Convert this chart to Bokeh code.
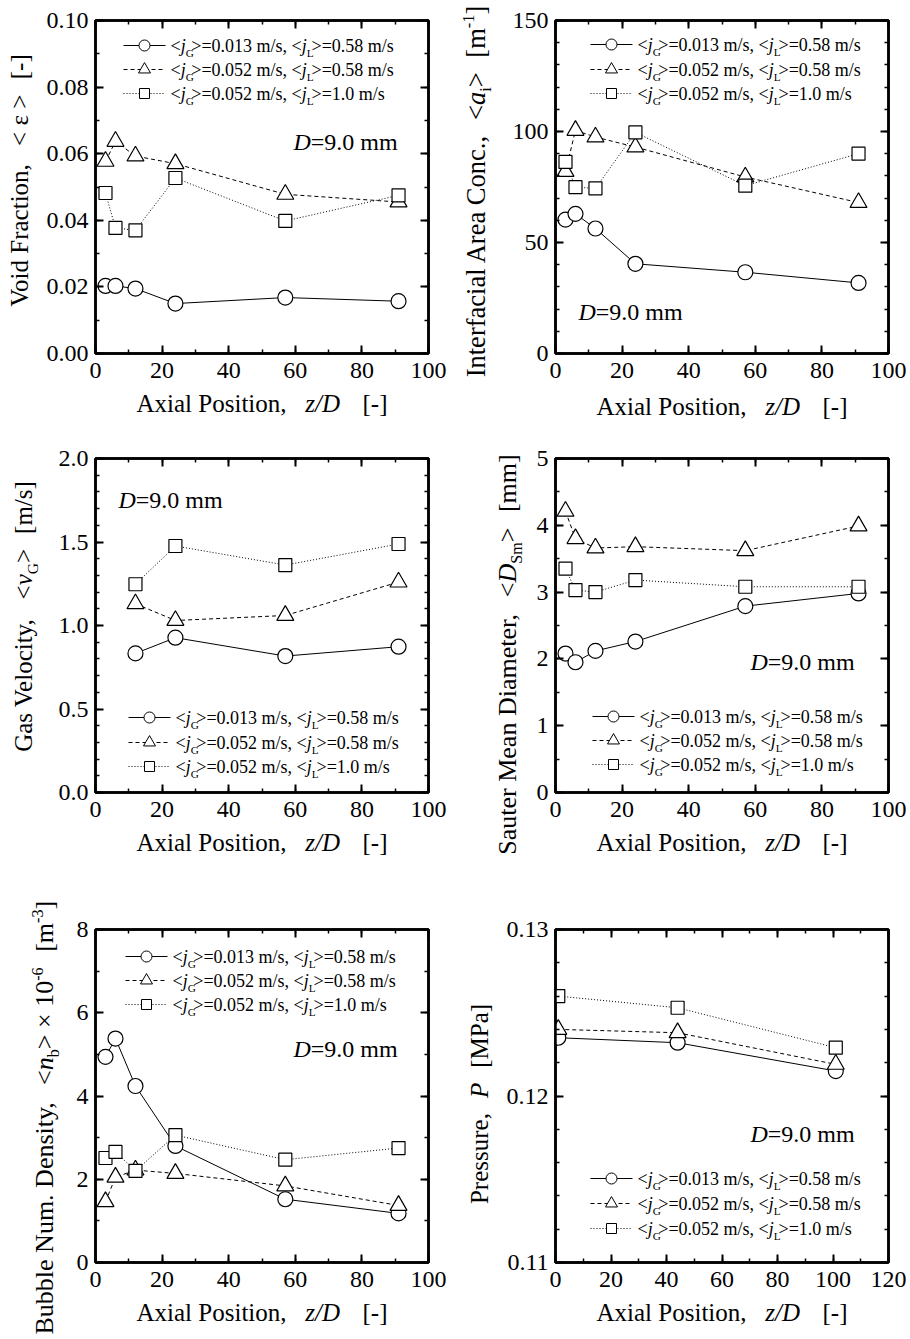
import math
from bokeh.plotting import figure
from bokeh.models import Range1d, LinearAxis, SingleIntervalTicker, PrintfTickFormatter, Label
from bokeh.layouts import row, column
from bokeh.embed import file_html
from bokeh.resources import INLINE

FONT = "Liberation Serif"

# ---------------- data ----------------
z_pos = [3, 6, 12, 24, 57, 91]          # axial positions z/D
z_vel = [12, 24, 57, 91]                # positions for gas velocity
z_pres = [1, 44, 101]                   # positions for pressure

# series: A = <jG>=0.013, <jL>=0.58 ; B = <jG>=0.052, <jL>=0.58 ; C = <jG>=0.052, <jL>=1.0
void_A = [0.0203, 0.0203, 0.0195, 0.0150, 0.0168, 0.0157]
void_B = [0.0577, 0.0637, 0.0593, 0.0570, 0.0478, 0.0455]
void_C = [0.0482, 0.0377, 0.0370, 0.0527, 0.0398, 0.0475]

iac_A = [60.3, 62.9, 56.3, 40.4, 36.6, 31.8]
iac_B = [82.0, 100.5, 97.5, 93.0, 79.5, 68.0]
iac_C = [86.3, 74.9, 74.4, 99.6, 75.6, 90.0]

vg_A = [0.833, 0.927, 0.817, 0.873]
vg_B = [1.13, 1.03, 1.06, 1.26]
vg_C = [1.247, 1.476, 1.362, 1.488]

dsm_A = [2.08, 1.95, 2.12, 2.26, 2.79, 2.98]
dsm_B = [4.21, 3.80, 3.66, 3.68, 3.62, 3.99]
dsm_C = [3.35, 3.03, 3.00, 3.18, 3.08, 3.08]

nb_A = [4.94, 5.38, 4.24, 2.80, 1.52, 1.18]
nb_B = [1.46, 2.05, 2.22, 2.14, 1.84, 1.37]
nb_C = [2.51, 2.66, 2.20, 3.06, 2.47, 2.75]

pres_A = [0.1235, 0.1232, 0.1215]
pres_B = [0.1240, 0.1238, 0.1219]
pres_C = [0.1260, 0.1253, 0.1229]

legend_jg = ["0.013", "0.052", "0.052"]
legend_jl = ["0.58", "0.58", "1.0"]

# ---------------- text helpers ----------------
W_R = {' ': 250, ',': 250, '.': 250, '-': 333, '/': 278, '[': 333, ']': 333, '<': 564, '>': 564,
       '=': 564, '×': 564, 'ε': 440,
       'A': 722, 'B': 667, 'C': 667, 'D': 722, 'F': 556, 'G': 722, 'I': 333, 'L': 611, 'M': 889,
       'N': 722, 'P': 556, 'S': 556, 'V': 722,
       'a': 444, 'b': 500, 'c': 444, 'd': 500, 'e': 444, 'f': 333, 'i': 278, 'l': 278, 'm': 778,
       'n': 500, 'o': 500, 'r': 333, 's': 389, 't': 278, 'u': 500, 'x': 500, 'y': 500, 'z': 444}
for _d in "0123456789":
    W_R[_d] = 500
W_I = {'D': 722, 'P': 611, 'a': 500, 'j': 278, 'n': 500, 'v': 444, 'z': 389, '/': 278}

BASE_FIX = 0.36   # rendered baseline sits this many em below the anchor; compensate


def seg_width(text, italic, size):
    tbl = W_I if italic else W_R
    return sum(tbl.get(ch, W_R.get(ch, 500)) for ch in text) * size / 1000.0


def expand(segs, S, sub_adv=1.0):
    out = []
    for t, k in segs:
        if t == "_gap":
            out.append((None, 0, 0, k * S, False))
            continue
        adv = 1.0
        if k == "r":
            size, shift, it = S, 0.0, False
        elif k == "i":
            size, shift, it = S, 0.0, True
        elif k == "sub":
            size, shift, it = 0.62 * S, -0.24 * S, False
            adv = sub_adv
        else:  # sup
            size, shift, it = 0.62 * S, 0.40 * S, False
        out.append((t, size, shift, seg_width(t, it, size) * adv, it))
    return out


def rich_total(segs, S, sub_adv=1.0):
    return sum(w for _, _, _, w, _ in expand(segs, S, sub_adv))


def rich(p, segs, S, x, y, vertical=False, start=0.0, sub_adv=1.0):
    pos = start
    for t, size, shift, w, it in expand(segs, S, sub_adv):
        if t is not None:
            up = shift + BASE_FIX * size
            if vertical:
                lx, ly, ang = x - up, y + pos, math.pi / 2
            else:
                lx, ly, ang = x + pos, y + up, 0.0
            p.add_layout(Label(x=lx, y=ly, x_units="screen", y_units="screen", text=t, angle=ang,
                               text_font=FONT, text_font_size=f"{size:.1f}px",
                               text_font_style="italic" if it else "normal",
                               text_color="black", text_baseline="alphabetic", text_align="left"))
        pos += w


def gap(em):
    return ("_gap", em)


X_TITLE = [("Axial Position,", "r"), gap(0.75), ("z/D", "i"), gap(0.9), ("[-]", "r")]
D_NOTE = [("D", "i"), ("=9.0 mm", "r")]

Y_TITLES = [
    [("Void Fraction,", "r"), gap(0.6), ("< ε >", "r"), gap(0.6), ("[-]", "r")],
    [("Interfacial Area Conc.,", "r"), gap(0.55), ("<", "r"), ("a", "i"), ("i", "sub"), (">", "r"),
     gap(0.55), ("[m", "r"), ("-1", "sup"), ("]", "r")],
    [("Gas Velocity,", "r"), gap(0.6), ("<", "r"), ("v", "i"), ("G", "sub"), (">", "r"), gap(0.6),
     ("[m/s]", "r")],
    [("Sauter Mean Diameter,", "r"), gap(0.6), ("<", "r"), ("D", "i"), ("Sm", "sub"), (">", "r"),
     gap(0.6), ("[mm]", "r")],
    [("Bubble Num. Density,", "r"), gap(0.6), ("<", "r"), ("n", "i"), ("b", "sub"), ("> × 10", "r"),
     ("-6", "sup"), gap(0.6), ("[m", "r"), ("-3", "sup"), ("]", "r")],
    [("Pressure,", "r"), gap(0.6), ("P", "i"), gap(0.6), ("[MPa]", "r")],
]


def legend_segs(i):
    return [("<", "r"), ("j", "i"), ("G", "sub"), (f">={legend_jg[i]} m/s, <", "r"), ("j", "i"),
            ("L", "sub"), (f">={legend_jl[i]} m/s", "r")]


SERIES_STYLE = [("circle", "solid", 15, 11), ("triangle", "4 3", 17, 12), ("square", "1 2", 13, 10)]

FW = 333
BB_MAIN = 36
# per row: (row height, border top, frame height, y-title width left, y-title width right)
ROWS = [(425, 20, 333, 42, 50), (450, 33, 334, 42, 72), (462, 54, 333, 64, 48)]
COL_W = (455, 453)
FRAME_LEFT = (95, 100)   # frame left, measured from each column's left edge
FRAME_RIGHT_PAD = (27, 20)

PANELS = [
    dict(z=z_pos, ys=[void_A, void_B, void_C], xr=(0, 100), yr=(0, 0.10), yint=0.02, ymin=2, fmt="%.2f",
         yt=(28, 245), ys_=25, xtd=59, note=(198, 203), leg=(28, [25, 49, 73])),
    dict(z=z_pos, ys=[iac_A, iac_B, iac_C], xr=(0, 100), yr=(0, 150), yint=50, ymin=5, fmt="%d",
         yt=(30, 234), ys_=26.5, xtd=62, note=(23, 33), leg=(35, [24, 49, 73])),
    dict(z=z_vel, ys=[vg_A, vg_B, vg_C], xr=(0, 100), yr=(0, 2.0), yint=0.5, ymin=5, fmt="%.1f",
         yt=(32, 259), ys_=25, xtd=59, note=(23, 284), leg=(33, [259, 284, 308])),
    dict(z=z_pos, ys=[dsm_A, dsm_B, dsm_C], xr=(0, 100), yr=(0, 5), yint=1, ymin=2, fmt="%d",
         yt=(61, 221), ys_=26, xtd=59, note=(195, 122), leg=(37, [258, 282, 306])),
    dict(z=z_pos, ys=[nb_A, nb_B, nb_C], xr=(0, 100), yr=(0, 8), yint=2, ymin=2, fmt="%d",
         yt=(53, 215), ys_=26, xtd=59, note=(198, 205), leg=(30, [27, 51, 75])),
    dict(z=z_pres, ys=[pres_A, pres_B, pres_C], xr=(0, 120), yr=(0.11, 0.13), yint=0.01, ymin=5, fmt="%.2f",
         yt=(33, 233.5), ys_=25, xtd=59, note=(195, 120), leg=(35, [249, 274, 299])),
]


def style_axis(ax, hidden=False):
    ax.axis_line_width = 2.5
    ax.axis_line_color = "black"
    ax.major_tick_in = 8
    ax.major_tick_out = 0
    ax.minor_tick_in = 4
    ax.minor_tick_out = 0
    ax.major_tick_line_width = 2
    ax.minor_tick_line_width = 1.5
    ax.major_tick_line_color = "black"
    ax.minor_tick_line_color = "black"
    if hidden:
        ax.major_label_text_font_size = "0px"
        ax.major_label_text_color = None
        ax.major_label_standoff = 0
    else:
        ax.major_label_text_font = FONT
        ax.major_label_text_font_size = "24px"
        ax.major_label_text_color = "black"


def blank(w, h, bl=0, br=0):
    return figure(frame_width=w, frame_height=h, x_range=Range1d(0, 1), y_range=Range1d(0, 1),
                  x_axis_type=None, y_axis_type=None, output_backend="svg", toolbar_location=None,
                  min_border_left=bl, min_border_right=br, min_border_top=0, min_border_bottom=0,
                  outline_line_color=None, background_fill_color="white", border_fill_color="white")


rows_out = []
for r in range(3):
    rh, bt, fh, ytl, ytr = ROWS[r]
    parts = []
    for c in range(2):
        idx = r * 2 + c
        cfg = PANELS[idx]
        ytw = ytl if c == 0 else ytr
        bl = FRAME_LEFT[c] - ytw
        br = FRAME_RIGHT_PAD[c]
        xr, yr = cfg["xr"], cfg["yr"]

        p = figure(frame_width=FW, frame_height=fh, x_range=Range1d(*xr), y_range=Range1d(*yr),
                   output_backend="svg", toolbar_location=None,
                   min_border_left=bl, min_border_right=br, min_border_top=bt, min_border_bottom=BB_MAIN,
                   background_fill_color="white", border_fill_color="white",
                   outline_line_color="black", outline_line_width=2.5)
        p.xgrid.visible = False
        p.ygrid.visible = False
        p.xaxis.ticker = SingleIntervalTicker(interval=20, num_minor_ticks=2)
        p.xaxis.formatter = PrintfTickFormatter(format="%d")
        p.yaxis.ticker = SingleIntervalTicker(interval=cfg["yint"], num_minor_ticks=cfg["ymin"])
        p.yaxis.formatter = PrintfTickFormatter(format=cfg["fmt"])
        style_axis(p.xaxis[0])
        style_axis(p.yaxis[0])
        p.xaxis.major_label_standoff = 9
        p.yaxis.major_label_standoff = 7

        top = LinearAxis(ticker=SingleIntervalTicker(interval=20, num_minor_ticks=2))
        right = LinearAxis(ticker=SingleIntervalTicker(interval=cfg["yint"], num_minor_ticks=cfg["ymin"]))
        style_axis(top, hidden=True)
        style_axis(right, hidden=True)
        p.add_layout(top, "above")
        p.add_layout(right, "right")

        for (mk, dash, ms, _), ys in zip(SERIES_STYLE, cfg["ys"]):
            p.line(cfg["z"], ys, line_color="black", line_width=1, line_dash=dash)
        for (mk, dash, ms, _), ys in zip(SERIES_STYLE, cfg["ys"]):
            p.scatter(cfg["z"], ys, marker=mk, size=ms, fill_color="white", line_color="black",
                      line_width=1.2)

        # legend drawn by hand (italic / subscript text)
        lx, tops = cfg["leg"]

        def dx(px, xr=xr):
            return xr[0] + px / FW * (xr[1] - xr[0])

        def dy(py, yr=yr, fh=fh):
            return yr[0] + py / fh * (yr[1] - yr[0])

        for i, ((mk, dash, _, lms), t) in enumerate(zip(SERIES_STYLE, tops)):
            yrel = fh - t
            p.line([dx(lx), dx(lx + 42)], [dy(yrel), dy(yrel)], line_color="black", line_width=1,
                   line_dash=dash)
            p.scatter([dx(lx + 21)], [dy(yrel)], marker=mk, size=lms, fill_color="white",
                      line_color="black", line_width=1)
            rich(p, legend_segs(i), 18, lx + 47, yrel - 7, sub_adv=0.7)

        nx, ny = cfg["note"]
        rich(p, D_NOTE, 24, nx, ny)

        # x title in its own strip under the plot (frame aligned with the plot frame)
        xt_h = rh - (bt + fh + BB_MAIN)
        xt = blank(FW, xt_h, bl, br)
        tw = rich_total(X_TITLE, 25)
        rich(xt, X_TITLE, 25, FW / 2 - tw / 2, xt_h - (cfg["xtd"] - BB_MAIN))

        # y title in its own strip left of the plot
        yt = blank(ytw, rh)
        segs = Y_TITLES[idx]
        S = cfg["ys_"]
        th = rich_total(segs, S)
        bx, yc = cfg["yt"]
        start = yc - th / 2
        start = max(start, 3)
        if start + th > rh - 3:
            start = rh - 3 - th
        rich(yt, segs, S, bx, 0, vertical=True, start=start)

        parts.append(yt)
        parts.append(column(p, xt))
    rows_out.append(row(*parts))

layout = column(*rows_out)
open("out.html", "w").write(file_html(layout, INLINE))
